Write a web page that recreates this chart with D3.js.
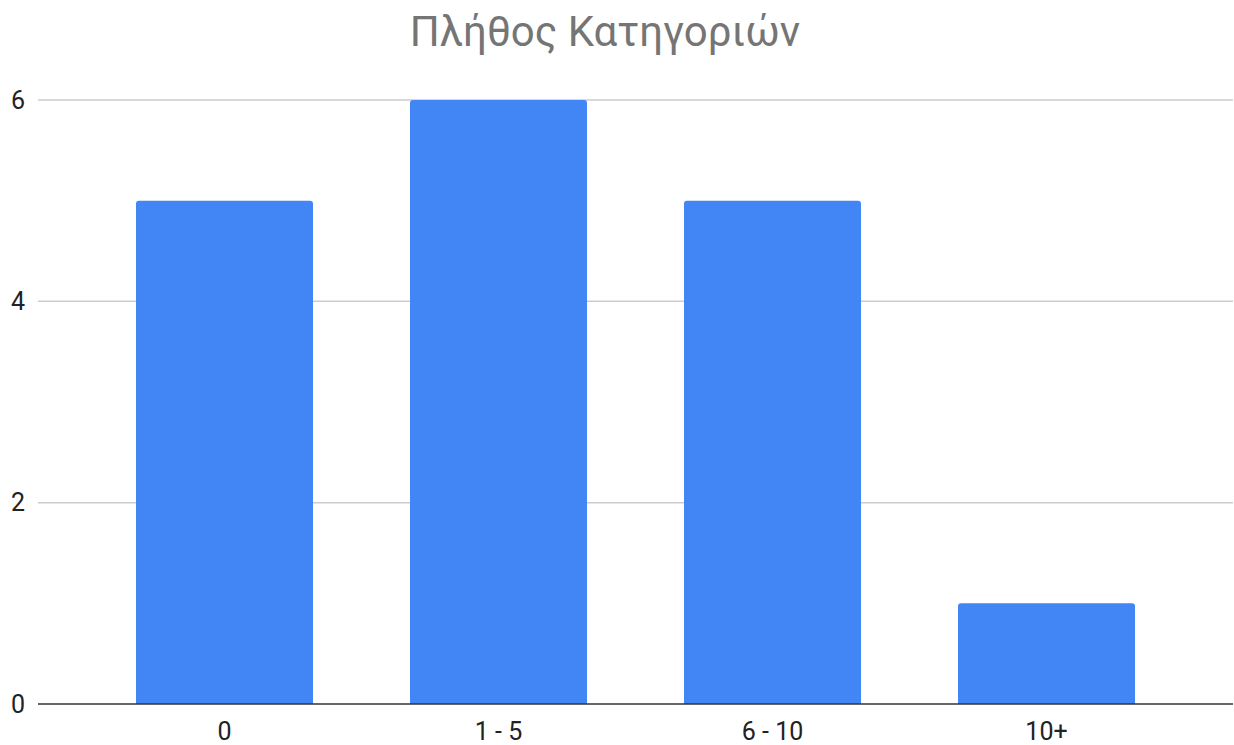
<!DOCTYPE html>
<html>
<head>
<meta charset="utf-8">
<script src="https://cdn.jsdelivr.net/npm/d3@7"></script>
<style>
  body { margin: 0; background: #fff; }
  text { font-family: Roboto, "Noto Sans", sans-serif; }
</style>
</head>
<body>
<div class="chart"></div>
<script>
const title = "Πλήθος Κατηγοριών"
const categories = ["0", "1 - 5", "6 - 10", "10+"]
const counts = [5, 6, 5, 1]
const yTicks = [0, 2, 4, 6]

const width = 1234, height = 745
const gridLeft = 38, gridRight = 1233

const svg = d3.select(".chart")
  .append("svg")
    .attr("width", width)
    .attr("height", height)

// scales
const x = d3.scaleBand()
  .domain(categories)
  .range([87.5, 1183.5])
  .paddingInner(0.354)
  .paddingOuter(0.177)

const y = d3.scaleLinear()
  .domain([0, 6])
  .range([704, 100])

// gridlines
svg.append("g")
  .selectAll("line")
  .data(yTicks.filter(d => d != 0))
  .join("line")
    .attr("x1", gridLeft)
    .attr("x2", gridRight)
    .attr("y1", d => y(d))
    .attr("y2", d => y(d))
    .attr("stroke", "#cccccc")
    .attr("stroke-width", 1.5)

// y labels
svg.append("g")
  .selectAll("text")
  .data(yTicks)
  .join("text")
    .attr("x", 25)
    .attr("y", d => y(d))
    .attr("dy", "0.35em")
    .attr("text-anchor", "end")
    .attr("font-size", 25)
    .attr("fill", "#222")
    .text(d => d)

// bars with rounded top corners
const r = 3
svg.append("g")
  .selectAll("path")
  .data(counts)
  .join("path")
    .attr("fill", "#4285f4")
    .attr("d", (d, i) => {
      const x0 = x(categories[i]), w = x.bandwidth()
      const top = y(d), bottom = y(0)
      return `M${x0},${bottom}V${top + r}Q${x0},${top} ${x0 + r},${top}` +
        `H${x0 + w - r}Q${x0 + w},${top} ${x0 + w},${top + r}V${bottom}Z`
    })

// baseline
svg.append("line")
  .attr("x1", gridLeft)
  .attr("x2", gridRight)
  .attr("y1", y(0))
  .attr("y2", y(0))
  .attr("stroke", "#333")
  .attr("stroke-width", 1.5)

// x axis labels
svg.append("g")
  .selectAll("text")
  .data(categories)
  .join("text")
    .attr("x", d => x(d) + x.bandwidth() / 2)
    .attr("y", 740)
    .attr("text-anchor", "middle")
    .attr("font-size", 25)
    .attr("fill", "#222")
    .text(d => d)

// title
svg.append("text")
  .attr("x", 605)
  .attr("y", 46)
  .attr("text-anchor", "middle")
  .attr("font-size", 42)
  .attr("fill", "#757575")
  .text(title)
</script>
</body>
</html>
